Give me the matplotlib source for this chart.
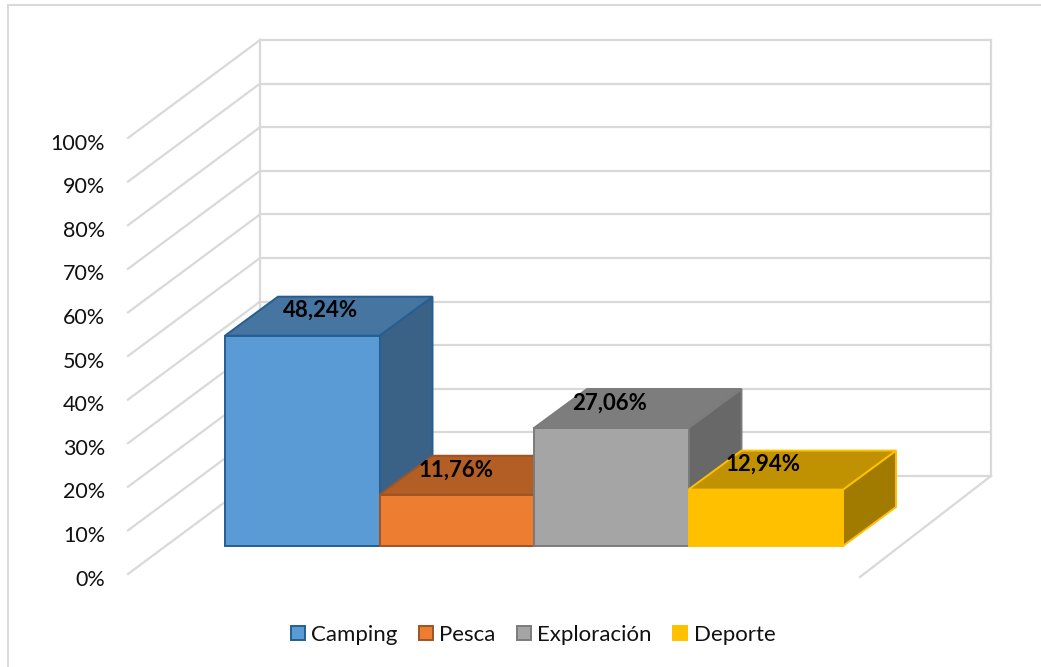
# -*- coding: utf-8 -*-
import matplotlib
matplotlib.use('Agg')
from matplotlib import pyplot as plt
from matplotlib.patches import Polygon, Rectangle

categories = ['Camping', 'Pesca', 'Exploración', 'Deporte']
values = [48.24, 11.76, 27.06, 12.94]
value_labels = ['48,24%', '11,76%', '27,06%', '12,94%']
tick_values = [0, 10, 20, 30, 40, 50, 60, 70, 80, 90, 100]
tick_labels = ['0%', '10%', '20%', '30%', '40%', '50%', '60%', '70%', '80%', '90%', '100%']

front_colors = ['#5B9BD5', '#ED7D31', '#A5A5A5', '#FFC000']
top_colors = ['#4675A1', '#B25E25', '#7D7D7D', '#C09100']
side_colors = ['#3A6286', '#964F1F', '#686868', '#A17A00']
edge_colors = ['#255E91', '#9E5423', '#7B7B7B', '#FFC000']

W, H = 1041, 667
px_x = 154.5     # pixels per category
px_y = 4.36      # pixels per percent
x0_px = 302.25   # pixel x of first category
y0_px = 546.0    # pixel y of 0% in the bar plane


def dx(p):
    return p / px_x


def dy(p):
    return p / px_y


fig = plt.figure(figsize=(W / 100, H / 100), dpi=100)
plt.rcParams['font.family'] = ['Lato', 'DejaVu Sans']
ax = fig.add_axes([0, 0, 1, 1])
ax.set_xlim(-x0_px / px_x, (W - x0_px) / px_x)
ax.set_ylim((y0_px - H) / px_y, y0_px / px_y)
ax.axis('off')

grid = '#D9D9D9'
# outer frame, only top and left show in the picture
frame_l = dx(8 - x0_px)
frame_t = dy(y0_px - 5)
ax.plot([frame_l, frame_l], [dy(y0_px - H), frame_t], color=grid, lw=1.4, zorder=0)
ax.plot([frame_l, dx(W - x0_px)], [frame_t, frame_t], color=grid, lw=1.4, zorder=0)

# walls: the left edge of the bars plane to the wall corner
left_front = dx(128 - x0_px)
left_back = dx(260 - x0_px)
right_back = dx(991 - x0_px)
right_front = dx(860 - x0_px)
shift_front = dy(-28)      # front of the floor sits under the bars
shift_back = dy(70)        # back wall sits above the bars
for v in tick_values:
    ax.plot([left_front, left_back], [v + shift_front, v + shift_back], color=grid, lw=1.6, zorder=1)
    ax.plot([left_back, right_back], [v + shift_back, v + shift_back], color=grid, lw=1.6, zorder=1)
ax.plot([left_back, left_back], [shift_back, 100 + shift_back], color=grid, lw=1.6, zorder=1)
ax.plot([right_back, right_back], [shift_back, 100 + shift_back], color=grid, lw=1.6, zorder=1)
ax.plot([right_front, right_back], [dy(-31), shift_back], color=grid, lw=1.6, zorder=1)

# y tick labels
for v, lab in zip(tick_values, tick_labels):
    ax.text(dx(105 - x0_px), v + shift_front - dy(5.5), lab, ha='right', va='center', fontsize=15.5,
            color='#111111', zorder=2)

# bars, left to right so later ones cover the earlier side faces
depth_x = dx(53)
depth_y = dy(39)
half = 0.5
label_shift = [18, -1, -2, -3]
for i, v in enumerate(values):
    z = 3 + i
    ax.add_patch(Polygon([(i + half, 0), (i + half + depth_x, depth_y),
                          (i + half + depth_x, v + depth_y), (i + half, v)],
                         fc=side_colors[i], ec=edge_colors[i], lw=1.4, zorder=z))
    ax.add_patch(Polygon([(i - half, v), (i - half + depth_x, v + depth_y),
                          (i + half + depth_x, v + depth_y), (i + half, v)],
                         fc=top_colors[i], ec=edge_colors[i], lw=1.4, zorder=z))
    ax.bar(i, v, width=1.0, color=front_colors[i], edgecolor=edge_colors[i], linewidth=1.4, zorder=z)

for i, v in enumerate(values):
    ax.text(i + dx(label_shift[i]), v + dy(25), value_labels[i], ha='center', va='center',
            fontsize=16, fontweight='bold', color='black', zorder=10)

# legend
handles = [Rectangle((0, 0), 1, 1, fc=front_colors[i], ec=edge_colors[i], lw=1.4)
           for i in range(len(categories))]
ax.legend(handles, categories, loc='center', bbox_to_anchor=(533 / W, 1 - 635 / H), ncol=4,
          frameon=False, fontsize=16, handlelength=0.63, handleheight=0.63, handletextpad=0.3,
          columnspacing=0.95, labelcolor='#111111', borderpad=0)

fig.savefig('out.png', dpi=100)
